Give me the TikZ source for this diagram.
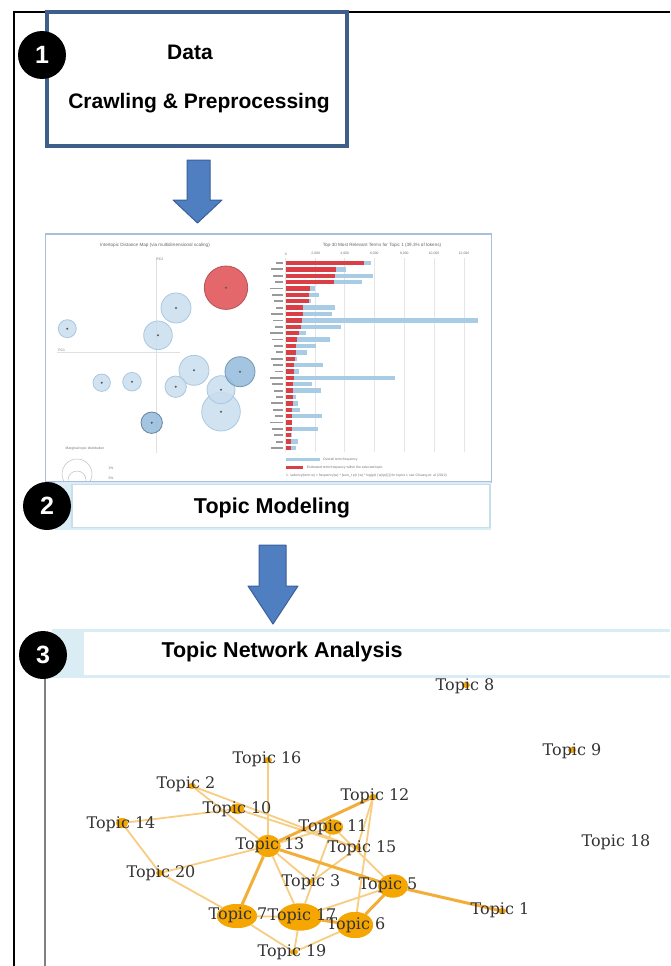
\documentclass[tikz,border=0pt]{standalone}
\usepackage{fontspec}
\setmainfont{Liberation Sans}
\newfontfamily\serifgraph{DejaVu Serif}
\newfontfamily\tinysans{Liberation Sans}
\usetikzlibrary{shapes.geometric}
\definecolor{boxblue}{HTML}{3E5F8A}
\definecolor{arrowblue}{HTML}{4F7EC1}
\definecolor{arrowedge}{HTML}{3A619C}
\definecolor{frameblue}{HTML}{A9BEDF}
\definecolor{paleblue}{HTML}{DAEDF5}
\definecolor{paleedge}{HTML}{C6DFEA}
\definecolor{ldared}{HTML}{DB3E45}
\definecolor{ldablue}{HTML}{A8CBE6}
\definecolor{circblue}{HTML}{C9DDEE}
\definecolor{circedge}{HTML}{A9C8E2}
\definecolor{circdark}{HTML}{93BCDC}
\definecolor{redcirc}{HTML}{E4676B}
\definecolor{gorange}{HTML}{F5A600}
\definecolor{edgethin}{HTML}{F8CD82}
\definecolor{edgethick}{HTML}{F2AE38}
\tikzset{
  numcirc/.style={circle,fill=black,minimum size=48pt,inner sep=0pt,text=white,font=\bfseries\fontsize{25}{25}\selectfont},
  boxtext/.style={font=\bfseries\fontsize{21}{21}\selectfont,inner sep=0pt},
  headtext/.style={font=\bfseries\fontsize{21.5}{21.5}\selectfont,inner sep=0pt},
  blockarrow/.style={fill=arrowblue,draw=arrowedge,line width=1pt,line join=round},
  gn/.style={ellipse,fill=gorange,inner sep=0pt,draw=none},
  gdot/.style={gn,minimum width=8pt,minimum height=6pt},
  tl/.style={font=\serifgraph\fontsize{16}{16}\selectfont,text=black!80,inner sep=0pt},
  ethin/.style={draw=edgethin,line width=1.8pt},
  ethick/.style={draw=edgethick,line width=3pt},
  ldacirc/.style={circle,fill=circblue,draw=circedge,line width=0.8pt,inner sep=0pt,fill opacity=0.85},
  tiny/.style={font=\tinysans\fontsize{4.6}{5}\selectfont,text=black!60,inner sep=0pt},
  tinier/.style={font=\tinysans\fontsize{3.4}{4}\selectfont,text=black!55,inner sep=0pt},
}
\begin{document}
\begin{tikzpicture}[x=1pt,y=-1pt]
\useasboundingbox (0,0) rectangle (670,966);
\fill[white] (0,0) rectangle (670,966);
% outer frame lines
\draw[black,line width=1.6pt] (14,966) -- (14,12) -- (670,12);

% ---------- Step 1 ----------
\node[draw=boxblue,line width=4.5pt,fill=white,minimum width=300pt,minimum height=134pt,inner sep=0pt] (box1) at (197,79) {};
\node[boxtext] (data) at (190,52) {Data};
\node[boxtext] (crawl) at (199,103) {Crawling \& Preprocessing};
\node[numcirc] (c1) at (42,55) {1};

% arrow 1
\draw[blockarrow] (187,160) -- (210,160) -- (210,200) -- (222,200) -- (197.5,223) -- (173,200) -- (187,200) -- cycle;

% ---------- Step 2: LDAvis screenshot ----------
\node[draw=frameblue,line width=1.6pt,fill=white,minimum width=446pt,minimum height=248pt,inner sep=0pt] (shot) at (268.5,358) {};
\node[tiny] (ltitle) at (155,245) {Intertopic Distance Map (via multidimensional scaling)};
\node[tiny] (rtitle) at (382,245) {Top-30 Most Relevant Terms for Topic 1 (39.3\% of tokens)};
% axes
\draw[black!12,line width=0.6pt] (156.7,257) -- (156.7,453);
\draw[black!12,line width=0.6pt] (56.7,352.7) -- (180,352.7);
\node[tinier] (pc2) at (160,259) {PC2};
\node[tinier] (pc1) at (61.7,350) {PC1};
% topic circles
\node[ldacirc,minimum size=38.6pt] (t3) at (221,411.7) {};
\node[ldacirc,minimum size=28pt] (t4) at (221,389.7) {};
\node[ldacirc,minimum size=30pt] (t2) at (194,370.3) {};
\node[ldacirc,fill=circdark,draw=circdark!80!black,minimum size=30pt] (t5) at (240,371.7) {};
\node[ldacirc,minimum size=30pt] (t6) at (176,308) {};
\node[ldacirc,minimum size=28.6pt] (t7) at (158,335.3) {};
\node[ldacirc,minimum size=18pt] (t8) at (67.3,328.7) {};
\node[ldacirc,minimum size=17.4pt] (t9) at (101.7,382.7) {};
\node[ldacirc,minimum size=18.6pt] (t10) at (132,381.7) {};
\node[ldacirc,minimum size=21.4pt] (t11) at (175.7,386.7) {};
\node[ldacirc,fill=circdark,draw=circdark!70!black,minimum size=21.4pt] (t12) at (151.7,422.7) {};
\node[circle,fill=redcirc,draw=redcirc!80!black,line width=0.8pt,minimum size=43.4pt,inner sep=0pt] (t1) at (226,287.7) {};
\foreach \p in {(226,287.7),(176,308),(67.3,328.7),(158,335.3),(194,370.3),(240,371.7),(101.7,382.7),(132,381.7),(175.7,386.7),(221,389.7),(221,411.7),(151.7,422.7)}
  \fill[black!65] \p circle (1.1pt);
% marginal legend
\node[tinier] (marg) at (85,449) {Marginal topic distribution};
\draw[black!25,line width=0.5pt] (77,474) circle (15pt);
\draw[black!25,line width=0.5pt] (77,480) circle (9pt);
\node[tinier] (p2) at (111,468) {2\%};
\node[tinier] (p5) at (111,478) {5\%};
% bar chart grid
\foreach \gx/\gl in {285.7/0,315.7/{2,000},344.7/{4,000},374.3/{6,000},404.3/{8,000},434/{10,000},464/{12,000}} {
  \draw[black!10,line width=0.5pt] (\gx,258) -- (\gx,452);
  \node[tinier] at (\gx,254) {\gl};
}
% bars
\foreach \r/\b [count=\i from 0] in {78.3/85.3,50.3/60,49.3/87.7,48.7/76,24.3/29.3,23.7/33.7,23.7/25,17.7/49.3,17/46.7,16/192.7,15/55.3,13.7/20,11/44.3,10.3/30.3,10.3/21,9.3/11,8.7/37,8.3/13.7,8.3/109.3,7.7/26,7.7/35,7.7/10.3,7/12,6.7/14.3,6.7/36,6/6.7,6/32,5.7/6.3,5.7/12,5.7/10.3} {
  \pgfmathsetmacro\yy{263+\i*6.38}
  \pgfmathsetmacro\lw{7+mod(\i*5,7)}
  \fill[ldablue] (285.7,\yy-2.2) rectangle ++(\b,4.4);
  \fill[ldared] (285.7,\yy-2.2) rectangle ++(\r,4.4);
  \fill[black!40] (283-\lw,\yy-0.9) rectangle (283,\yy+0.9);
}
% bar legend
\fill[ldablue] (285.7,457.5) rectangle (320,461);
\node[tinier,anchor=west] (lg1) at (323,459.3) {Overall term frequency};
\fill[ldared] (285.7,465.5) rectangle (303.3,469);
\node[tinier,anchor=west] (lg2) at (306.7,467.3) {Estimated term frequency within the selected topic};
\node[tinier,anchor=west] (lg3) at (286,475.5) {1. saliency(term w) = frequency(w) * [sum\_t p(t | w) * log(p(t | w)/p(t))] for topics t; see Chuang et. al (2012)};

% Topic Modeling label box
\fill[paleblue] (55,482) rectangle (491,530);
\node[draw=paleedge,line width=1.2pt,fill=white,minimum width=418pt,minimum height=43pt,inner sep=0pt] (box2) at (281,506) {};
\node[headtext] (tm) at (272,508) {Topic Modeling};
\node[numcirc] (c2) at (47,506) {2};

% arrow 2
\draw[blockarrow] (259,545) -- (286,545) -- (286,586) -- (298,586) -- (273,624) -- (248,586) -- (259,586) -- cycle;

% ---------- Step 3 ----------
\fill[paleblue] (52,629) rectangle (670,678);
\fill[white] (84,632) rectangle (670,675);
\draw[black!50,line width=1.6pt] (45,660) -- (45,966);
\node[numcirc] (c3) at (43,655) {3};
\node[headtext] (tna) at (282,652) {Topic Network Analysis};

% network nodes
\node[gdot] (n8) at (466,685) {};
\node[gdot] (n9) at (572,750) {};
\node[gdot] (n16) at (268,760) {};
\node[gdot] (n2) at (192,786) {};
\node[gn,minimum width=14pt,minimum height=10pt] (n10) at (237,809) {};
\node[gdot] (n12) at (373,797) {};
\node[gn,minimum width=12pt,minimum height=10pt] (n14) at (122,823) {};
\node[gn,minimum width=20pt,minimum height=15pt] (n11) at (333,827) {};
\node[gn,minimum width=25pt,minimum height=22pt] (n13) at (268,846) {};
\node[gdot] (n15) at (357,848) {};
\node[gdot] (n20) at (160,873) {};
\node[gdot] (n3) at (311,882) {};
\node[gn,minimum width=30pt,minimum height=23pt] (n5) at (393,886) {};
\node[gdot] (n1) at (502,911) {};
\node[gn,minimum width=40pt,minimum height=24pt] (n7) at (237,916) {};
\node[gn,minimum width=44pt,minimum height=27pt] (n17) at (300,917) {};
\node[gn,minimum width=36pt,minimum height=26pt] (n6) at (355,925) {};
\node[gdot] (n19) at (294,952) {};

% edges
\draw[ethin] (n16) -- (n13);
\draw[ethin] (n2) -- (n13);
\draw[ethin] (n2) -- (n15);
\draw[ethin] (n10) -- (n15);
\draw[ethin] (n14) -- (n10);
\draw[ethin] (n14) -- (n20);
\draw[ethin] (n20) -- (n13);
\draw[ethin] (n20) -- (n7);
\draw[ethin] (n12) -- (n15);
\draw[ethin] (n12) -- (n6);
\draw[ethin] (n11) -- (n13);
\draw[ethin] (n11) -- (n5);
\draw[ethin] (n11) -- (n17);
\draw[ethin] (n15) -- (n3);
\draw[ethin] (n13) -- (n3);
\draw[ethin] (n13) -- (n17);
\draw[ethin] (n17) -- (n5);
\draw[ethin] (n7) -- (n17);
\draw[ethin] (n7) -- (n19);
\draw[ethin] (n17) -- (n19);
\draw[ethin] (n6) -- (n19);
\draw[ethick] (n12) -- (n13);
\draw[ethick] (n13) -- (n7);
\draw[ethick] (n13) -- (n5);
\draw[ethick] (n5) -- (n6);
\draw[ethick] (n5) -- (n1);
\draw[ethick] (n17) -- (n6);
% redraw large nodes over the edges
\node[gn,minimum width=14pt,minimum height=10pt] (m10) at (n10) {};
\node[gn,minimum width=12pt,minimum height=10pt] (m14) at (n14) {};
\node[gn,minimum width=20pt,minimum height=15pt] (m11) at (n11) {};
\node[gn,minimum width=25pt,minimum height=22pt] (m13) at (n13) {};
\node[gn,minimum width=30pt,minimum height=23pt] (m5) at (n5) {};
\node[gn,minimum width=40pt,minimum height=24pt] (m7) at (n7) {};
\node[gn,minimum width=44pt,minimum height=27pt] (m17) at (n17) {};
\node[gn,minimum width=36pt,minimum height=26pt] (m6) at (n6) {};

% labels
\node[tl] (l8) at (465,686) {Topic 8};
\node[tl] (l9) at (572,751) {Topic 9};
\node[tl] (l16) at (267,759) {Topic 16};
\node[tl] (l2) at (186,784) {Topic 2};
\node[tl] (l10) at (237,809) {Topic 10};
\node[tl] (l12) at (375,796) {Topic 12};
\node[tl] (l14) at (121,824) {Topic 14};
\node[tl] (l11) at (333,827) {Topic 11};
\node[tl] (l13) at (270,845) {Topic 13};
\node[tl] (l15) at (362,848) {Topic 15};
\node[tl] (l18) at (616,842) {Topic 18};
\node[tl] (l20) at (161,873) {Topic 20};
\node[tl] (l3) at (311,882) {Topic 3};
\node[tl] (l5) at (388,885) {Topic 5};
\node[tl] (l1) at (500,910) {Topic 1};
\node[tl] (l7) at (238,915) {Topic 7};
\node[tl] (l17) at (302,916) {Topic 17};
\node[tl] (l6) at (356,925) {Topic 6};
\node[tl] (l19) at (292,952) {Topic 19};
\end{tikzpicture}
\end{document}
